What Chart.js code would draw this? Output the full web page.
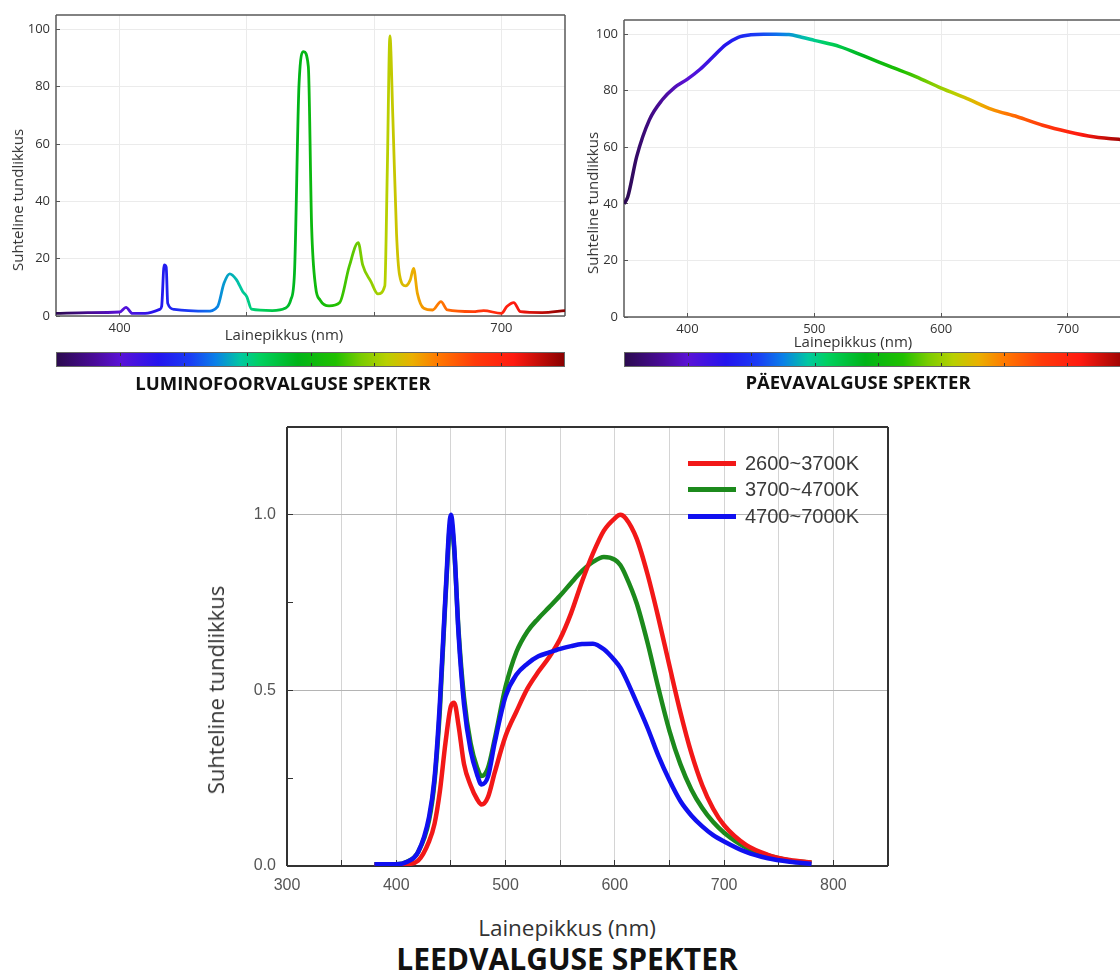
<!DOCTYPE html>
<html>
<head>
<meta charset="utf-8">
<script src="https://cdn.jsdelivr.net/npm/chart.js@4.4.1/dist/chart.umd.min.js"></script>
<style>
  html, body { margin: 0; padding: 0; background: #fff; }
  body { width: 1120px; height: 970px; position: relative; overflow: hidden; font-family: 'Open Sans', sans-serif; }
  .box { position: absolute; }
  .lbl { position: absolute; color: #333; white-space: nowrap; transform: translate(-50%, -50%); }
  .vlbl { transform: translate(-50%, -50%) rotate(-90deg); }
  .ttl { position: absolute; font-weight: 700; color: #111; white-space: nowrap; transform: translate(-50%, -50%); }
  .cbar { position: absolute; border: 1px solid #666; box-sizing: border-box; }
  .cbar i { position: absolute; width: 1px; height: 3px; background: #333; }
  #legend { position: absolute; left: 688px; top: 450px; font-family: 'Liberation Sans', Arial, sans-serif; font-size: 20px; color: #3a3a3a; }
  #legend div { height: 26.5px; display: flex; align-items: center; }
  #legend span { display: inline-block; width: 48px; height: 5px; margin-right: 9px; }
</style>
</head>
<body>
<div class="box" style="left:0;top:0;width:570px;height:340px"><canvas id="fluoChart"></canvas></div>
<div class="box" style="left:570px;top:0;width:550px;height:345px"><canvas id="dayChart"></canvas></div>
<div class="box" style="left:190px;top:410px;width:720px;height:490px"><canvas id="ledChart"></canvas></div>

<div class="lbl vlbl" style="left:17px;top:200px;font-size:15px">Suhteline tundlikkus</div>
<div class="lbl" style="left:284px;top:334px;font-size:15px">Lainepikkus (nm)</div>
<div class="cbar" id="fluoBar" style="left:56px;top:352px;width:509px;height:15px"></div>
<div class="ttl" style="left:283px;top:382px;font-size:18.5px">LUMINOFOORVALGUSE SPEKTER</div>

<div class="lbl vlbl" style="left:592px;top:203px;font-size:15px">Suhteline tundlikkus</div>
<div class="lbl" style="left:853px;top:341px;font-size:15px">Lainepikkus (nm)</div>
<div class="cbar" id="dayBar" style="left:624px;top:352px;width:500px;height:15px"></div>
<div class="ttl" style="left:858px;top:381px;font-size:18.5px">PÄEVAVALGUSE SPEKTER</div>

<div class="lbl vlbl" style="left:215px;top:690px;font-size:22px">Suhteline tundlikkus</div>
<div class="lbl" style="left:567px;top:927px;font-size:22.5px">Lainepikkus (nm)</div>
<div class="ttl" style="left:567px;top:958px;font-size:30px">LEEDVALGUSE SPEKTER</div>
<div id="legend"></div>

<script>
// Fluorescent lamp spectrum (nm -> relative sensitivity)
const fluoWavelengths = [350, 375, 400, 405, 410, 420, 431.5, 433, 435, 436.6, 437.8, 443, 454, 468.7, 477, 482, 486.5, 491.6, 496.8, 500, 503.6, 520, 530, 534.5, 537.4, 541, 544.6, 548.3, 550.9, 554, 557.5, 564.6, 573, 580.4, 587.5, 591, 597.5, 603, 608.4, 610.4, 612.4, 614.7, 617.6, 620, 624.7, 628.4, 631, 634, 639, 646, 652.5, 657.6, 677.7, 686, 700, 704.3, 709.7, 715, 732, 750];
const fluoValues = [0.9, 1.2, 1.4, 3.0, 0.9, 0.9, 2.3, 3.3, 17.8, 17.0, 4.4, 2.3, 1.9, 1.7, 3.3, 11.4, 14.7, 12.8, 8.5, 6.7, 2.4, 1.9, 2.7, 5.6, 14.9, 81, 92.2, 87, 31, 10.2, 5.6, 3.5, 4.7, 17.2, 25.6, 17.8, 12, 7.7, 10.5, 52, 97.7, 69.5, 28.8, 14.3, 10.5, 12.6, 16.6, 7.9, 2.7, 2.1, 5, 2.1, 1.5, 1.9, 0.9, 3.3, 4.7, 1.5, 1.2, 1.9];
const fluoXTicks = [400, 500, 600, 700];
const fluoXLabels = [400, 700];

// Daylight spectrum
const dayWavelengths = [350, 353, 360, 370, 380, 390, 400, 410, 420, 430, 440, 450, 460, 470, 480, 490, 500, 520, 540, 560, 580, 600, 620, 640, 660, 680, 700, 720, 740, 750];
const dayValues = [40, 42.5, 56.7, 69.7, 76.7, 81.2, 84.1, 87.6, 91.9, 96.2, 98.9, 99.8, 100, 100, 99.9, 98.9, 97.8, 95.6, 92.1, 88.5, 85, 80.9, 77.3, 73.4, 70.8, 67.8, 65.5, 63.7, 62.8, 62.6];
const dayXTicks = [400, 500, 600, 700];
const pctYTicks = [0, 20, 40, 60, 80, 100];

// LED spectra
const ledWavelengths = [380, 400, 410, 420, 430, 435, 440, 445, 450, 453, 457, 462, 468, 474, 478, 484, 490, 500, 510, 520, 530, 540, 550, 560, 570, 580, 590, 600, 605, 610, 620, 630, 640, 650, 660, 670, 680, 690, 700, 720, 740, 760, 780];
const ledWarm = [0.003, 0.003, 0.005, 0.015, 0.07, 0.12, 0.215, 0.35, 0.455, 0.465, 0.4, 0.29, 0.23, 0.19, 0.175, 0.197, 0.265, 0.37, 0.44, 0.505, 0.553, 0.595, 0.647, 0.72, 0.81, 0.89, 0.955, 0.99, 1.0, 0.99, 0.932, 0.83, 0.705, 0.57, 0.438, 0.322, 0.23, 0.163, 0.116, 0.06, 0.032, 0.017, 0.01];
const ledNeutral = [0.005, 0.005, 0.012, 0.04, 0.13, 0.24, 0.45, 0.76, 0.98, 0.9, 0.67, 0.48, 0.35, 0.28, 0.256, 0.28, 0.36, 0.51, 0.61, 0.668, 0.705, 0.737, 0.77, 0.806, 0.84, 0.866, 0.88, 0.872, 0.857, 0.827, 0.748, 0.635, 0.505, 0.385, 0.29, 0.218, 0.165, 0.125, 0.095, 0.053, 0.03, 0.016, 0.009];
const ledCool = [0.005, 0.005, 0.012, 0.04, 0.14, 0.25, 0.47, 0.77, 1.0, 0.91, 0.66, 0.46, 0.33, 0.26, 0.232, 0.255, 0.35, 0.483, 0.545, 0.576, 0.597, 0.608, 0.618, 0.626, 0.632, 0.633, 0.617, 0.585, 0.565, 0.535, 0.465, 0.393, 0.313, 0.244, 0.185, 0.144, 0.113, 0.088, 0.07, 0.04, 0.022, 0.012, 0.006];
const ledLabels = ['2600~3700K', '3700~4700K', '4700~7000K'];
const ledColors = ['#f21818', '#1c8a1c', '#1010f0'];
const ledXLabels = [300, 400, 500, 600, 700, 800];
const ledYLabels = [0, 0.5, 1];

// visible-spectrum colour ramp used for the lines and colour bars
const SPEC_MIN = 350, SPEC_MAX = 750;
const spectrumStops = [
  [350, '#2b0a4f'], [380, '#4a0b9a'], [400, '#5a12d6'], [430, '#2414ee'], [455, '#1a3cf5'],
  [475, '#0a7fe8'], [495, '#00c8a0'], [510, '#00d060'], [540, '#00b418'], [570, '#20c000'],
  [590, '#7acc00'], [610, '#b8d000'], [630, '#eab000'], [650, '#ff7a00'], [680, '#ff3a0a'],
  [710, '#ff1a10'], [750, '#8a0000']
];

const toPoints = (xs, ys) => xs.map((x, i) => ({ x: x, y: ys[i] }));

function spectrumGradient(chart) {
  const { ctx, chartArea, scales } = chart;
  if (!chartArea) return '#000';
  const x0 = scales.x.getPixelForValue(SPEC_MIN);
  const x1 = scales.x.getPixelForValue(SPEC_MAX);
  const g = ctx.createLinearGradient(x0, 0, x1, 0);
  spectrumStops.forEach(([nm, c]) => g.addColorStop((nm - SPEC_MIN) / (SPEC_MAX - SPEC_MIN), c));
  return g;
}

// css gradient for the colour bars under the top charts
function fillBar(id, lo, hi) {
  const el = document.getElementById(id);
  const stops = spectrumStops.map(([nm, c]) => c + ' ' + ((nm - lo) / (hi - lo) * 100).toFixed(2) + '%');
  el.style.background = 'linear-gradient(to right, ' + stops.join(', ') + ')';
  const w = el.clientWidth;
  for (let nm = 400; nm < hi; nm += 50) {
    const left = ((nm - lo) / (hi - lo)) * w;
    ['0', 'auto'].forEach(top => {
      const t = document.createElement('i');
      t.style.left = left + 'px';
      if (top === '0') t.style.top = '0'; else t.style.bottom = '0';
      el.appendChild(t);
    });
  }
}

const framePlugin = {
  id: 'frame',
  beforeDatasetsDraw(chart, args, opts) {
    const { ctx, chartArea: a } = chart;
    ctx.save();
    ctx.strokeStyle = opts.color;
    ctx.lineWidth = opts.width;
    ctx.beginPath();
    if (opts.sides.includes('t')) { ctx.moveTo(a.left, a.top); ctx.lineTo(a.right, a.top); }
    if (opts.sides.includes('r')) { ctx.moveTo(a.right, a.top); ctx.lineTo(a.right, a.bottom); }
    if (opts.sides.includes('b')) { ctx.moveTo(a.left, a.bottom); ctx.lineTo(a.right, a.bottom); }
    if (opts.sides.includes('l')) { ctx.moveTo(a.left, a.top); ctx.lineTo(a.left, a.bottom); }
    ctx.stroke();
    ctx.restore();
  }
};
Chart.register(framePlugin);

// fixed axis sizes so the plot areas land where the reference has them
const fixWidth = w => s => { s.width = w; s.paddingTop = 0; s.paddingBottom = 0; };
const fixHeight = h => s => { s.height = h; };

const topFont = { family: "'Open Sans', sans-serif", size: 13 };

function spectrumChart(id, xs, ys, xMax, xTicks, xLabels, pad, yWidth, xHeight, lineWidth, sides) {
  return new Chart(document.getElementById(id), {
    type: 'line',
    data: {
      datasets: [{
        data: toPoints(xs, ys),
        borderColor: c => spectrumGradient(c.chart),
        borderWidth: lineWidth,
        pointRadius: 0,
        cubicInterpolationMode: 'monotone',
        fill: false
      }]
    },
    options: {
      responsive: true,
      maintainAspectRatio: false,
      animation: false,
      layout: { padding: pad },
      plugins: {
        legend: { display: false },
        tooltip: { enabled: false },
        frame: { color: '#5a5a5a', width: 1.5, sides: sides }
      },
      scales: {
        x: {
          type: 'linear', min: SPEC_MIN, max: xMax,
          afterBuildTicks: s => { s.ticks = xTicks.map(v => ({ value: v })); },
          afterFit: fixHeight(xHeight),
          grid: { color: '#ebebeb', tickColor: '#555', tickLength: -4 },
          border: { display: false },
          ticks: {
            font: topFont, color: '#333', padding: 8, maxRotation: 0,
            callback: v => xLabels.includes(v) ? String(v) : ''
          }
        },
        y: {
          min: 0, max: 105,
          afterBuildTicks: s => { s.ticks = pctYTicks.map(v => ({ value: v })); },
          afterFit: fixWidth(yWidth),
          grid: { color: '#ebebeb', tickColor: '#555', tickLength: -4 },
          border: { display: false },
          ticks: { font: topFont, color: '#333', padding: 10 }
        }
      }
    }
  });
}

spectrumChart('fluoChart', fluoWavelengths, fluoValues, 750, fluoXTicks, fluoXLabels,
  { left: 0, right: 5, top: 15, bottom: 0 }, 56, 24, 2.8, 'trbl');
spectrumChart('dayChart', dayWavelengths, dayValues, 741, dayXTicks, dayXTicks,
  { left: 0, right: 0, top: 20, bottom: 0 }, 54, 28, 3.5, 'tbl');

fillBar('fluoBar', 350, 750);
fillBar('dayBar', 350, 741 + 4 / 1.27);

// LED chart
const ledSeries = [ledWarm, ledNeutral, ledCool];
const ledOrder = [1, 2, 0]; // blue drawn on top
const tickFont = { family: "'Liberation Sans', Arial, sans-serif", size: 16 };

new Chart(document.getElementById('ledChart'), {
  type: 'line',
  data: {
    datasets: ledSeries.map((vals, i) => ({
      label: ledLabels[i],
      data: toPoints(ledWavelengths, vals),
      borderColor: ledColors[i],
      borderWidth: 4.5,
      pointRadius: 0,
      cubicInterpolationMode: 'monotone',
      order: ledOrder[i],
      fill: false
    }))
  },
  options: {
    responsive: true,
    maintainAspectRatio: false,
    animation: false,
    layout: { padding: { left: 0, right: 22, top: 17, bottom: 0 } },
    plugins: {
      legend: { display: false },
      tooltip: { enabled: false },
      frame: { color: '#333', width: 2, sides: 'trbl' }
    },
    scales: {
      x: {
        type: 'linear', min: 300, max: 850,
        ticks: {
          stepSize: 50, font: tickFont, color: '#555', padding: 16, maxRotation: 0, autoSkip: false,
          callback: v => ledXLabels.includes(v) ? String(v) : ''
        },
        afterFit: fixHeight(34),
        grid: { color: c => (c.tick.value > 300 && c.tick.value < 850) ? '#d4d4d4' : 'transparent', tickColor: '#333', tickLength: -6 },
        border: { display: false }
      },
      y: {
        min: 0, max: 1.25,
        ticks: {
          stepSize: 0.25, font: tickFont, color: '#555', padding: 17,
          callback: v => ledYLabels.includes(v) ? v.toFixed(1) : ''
        },
        afterFit: fixWidth(97),
        grid: { color: c => (c.tick.value === 0.5 || c.tick.value === 1) ? '#b4b4b4' : 'transparent', tickColor: '#333', tickLength: -6 },
        border: { display: false }
      }
    }
  }
});

// legend drawn as html inside the plot area
const legendEl = document.getElementById('legend');
ledLabels.forEach((name, i) => {
  const row = document.createElement('div');
  const swatch = document.createElement('span');
  swatch.style.background = ledColors[i];
  row.appendChild(swatch);
  row.appendChild(document.createTextNode(name));
  legendEl.appendChild(row);
});
</script>
</body>
</html>
